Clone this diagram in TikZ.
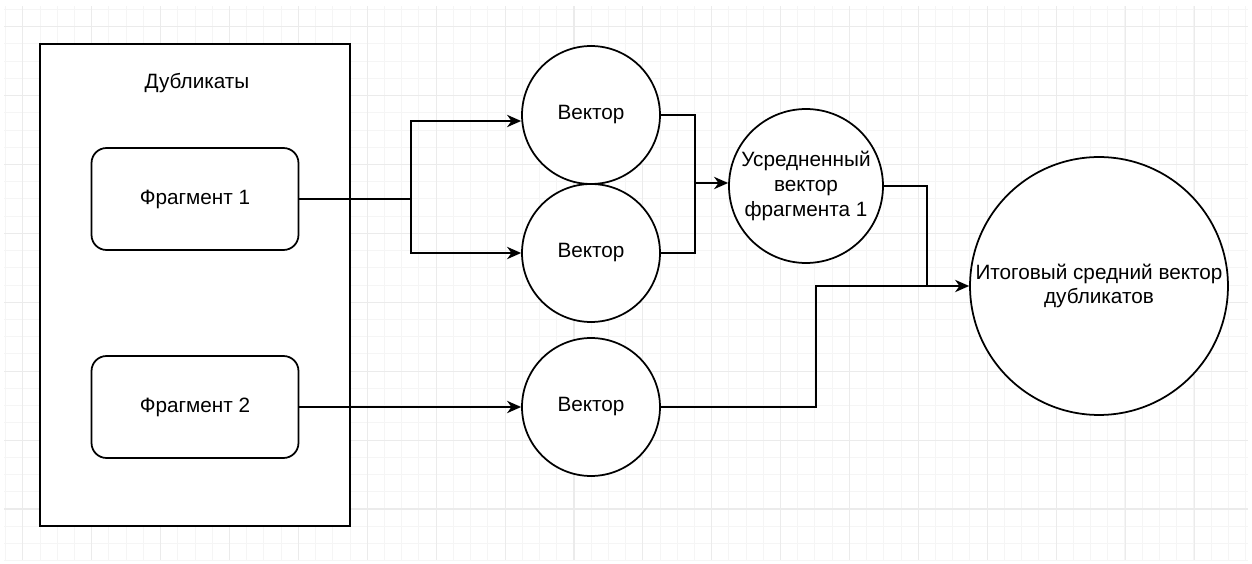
\documentclass[tikz,border=0pt]{standalone}
\usepackage{fontspec}
\setmainfont{Liberation Sans}
\usepackage{tikz}
\usetikzlibrary{arrows.meta}

\begin{document}
\begin{tikzpicture}[x=0.02cm, y=-0.02cm,
  every node/.style={font=\fontsize{11.8}{14}\selectfont},
  frame/.style={draw, line width=1pt, minimum width=6.2cm, minimum height=9.64cm, inner sep=0pt},
  fragbox/.style={draw, line width=1pt, rounded corners=0.3cm, minimum width=4.14cm, minimum height=2.04cm},
  vecnode/.style={draw, circle, line width=1pt, fill=white, inner sep=0pt, align=center},
  link/.style={line width=1pt},
  arrowlink/.style={line width=1pt, -{Stealth[length=8pt, width=7pt, inset=2.5pt]}}
]

% Colori della griglia
\definecolor{gridMinor}{HTML}{F5F5F5}
\definecolor{gridMajor}{HTML}{EBEBEB}

\useasboundingbox (0,0) rectangle (1252,564);

% Griglia di sfondo
\begin{scope}
\clip (4,6) rectangle (1248,560);
\foreach \i in {-1,...,71}
  \draw[gridMinor, line width=0.5pt] ({22.8+17.22*\i},6) -- ({22.8+17.22*\i},560);
\foreach \i in {-1,...,31}
  \draw[gridMinor, line width=0.5pt] (4,{26.7+17.22*\i}) -- (1248,{26.7+17.22*\i});
\foreach \i in {0,...,17}
  \draw[gridMajor, line width=0.6pt] ({22.8+68.9*\i},6) -- ({22.8+68.9*\i},560);
\foreach \i in {0,...,7}
  \draw[gridMajor, line width=0.6pt] (4,{26.7+68.9*\i}) -- (1248,{26.7+68.9*\i});
\end{scope}

% Blocco dei duplicati
\node[frame, fill=white] (dup) at (195,285) {};
\node (dupTitle) at (197,83) {Дубликаты};
\node[fragbox] (frag1) at (195,199) {Фрагмент 1};
\node[fragbox] (frag2) at (195,407) {Фрагмент 2};

% Vettori
\node[vecnode, minimum size=2.76cm] (vec1) at (591,115) {Вектор};
\node[vecnode, minimum size=2.76cm] (vec2) at (591,253) {Вектор};
\node[vecnode, minimum size=2.76cm] (vec3) at (591,407) {Вектор};
\node[vecnode, minimum size=3.08cm] (avg) at (806,186) {Усредненный\\вектор\\фрагмента 1};
\node[vecnode, minimum size=5.16cm] (final) at (1099,286) {Итоговый средний вектор\\дубликатов};

% Punti di raccordo
\coordinate (split1) at (411,199);
\coordinate (join1) at (695,183);
\coordinate (join2) at (927,286);
\coordinate (bend3) at (816,286);

% Collegamenti
\draw[link] (frag1.east) -- (split1);
\draw[arrowlink] (split1) |- ([yshift=-0.12cm]vec1.west);
\draw[arrowlink] (split1) |- (vec2.west);
\draw[arrowlink] (frag2.east) -- (vec3.west);

\draw[link] (vec1.east) -| (join1);
\draw[link] (vec2.east) -| (join1);
\draw[arrowlink] (join1) -- (join1 -| avg.west);

\draw[link] (avg.east) -| (join2);
\draw[arrowlink] (vec3.east) -| (bend3) -- (final.west);

\end{tikzpicture}
\end{document}
